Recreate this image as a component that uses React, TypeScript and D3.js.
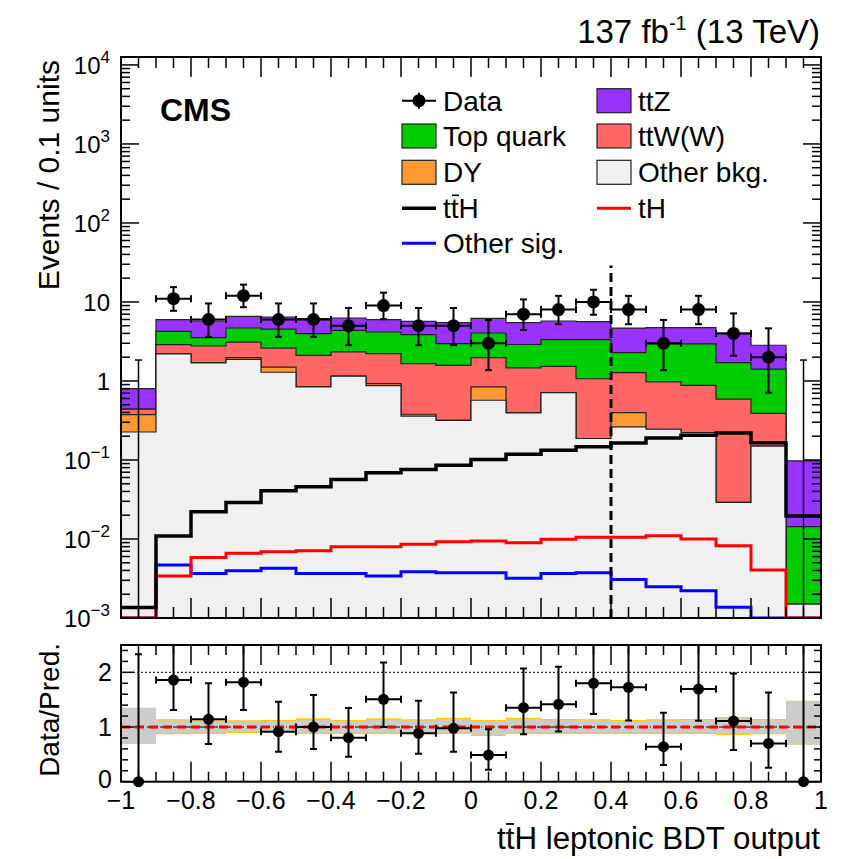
import React from 'react';
import * as d3 from 'd3';

// ---------- data ----------
const binEdges = [-1, -0.9, -0.8, -0.7, -0.6, -0.5, -0.4, -0.3, -0.2, -0.1, 0, 0.1, 0.2, 0.3, 0.4, 0.5, 0.6, 0.7, 0.8, 0.9, 1];

// stacked backgrounds (bottom -> top)
const otherBkg = [0.226, 2.2, 1.69, 1.88, 1.29, 0.84, 1.15, 0.875, 0.358, 0.318, 0.57, 0.394, 0.713, 0.187, 0.262, 0.245, 0.222, 0.029, 0.15, 0.0015];
const dyBkg = [0.15, 0, 0, 0.1, 0.21, 0, 0, 0.052, 0.021, 0, 0.27, 0, 0, 0, 0.136, 0, 0, 0, 0, 0];
const ttWW = [0.064, 0.69, 1.08, 1.13, 1.11, 1.27, 1.18, 1.29, 1.28, 1.26, 1.14, 1.07, 0.82, 0.88, 0.88, 0.73, 0.66, 0.56, 0.24, 0];
const topQuark = [0, 1.36, 0.77, 1.57, 1.93, 1.86, 2.05, 1.95, 2.2, 1.39, 2.07, 1.43, 1.81, 2.27, 1.0, 1.97, 2.06, 1.12, 1.02, 0.0128];
const ttZ = [0.36, 1.72, 2.2, 1.9, 1.91, 2.18, 1.89, 1.8, 1.83, 2.5, 2.16, 2.58, 2.4, 2.3, 2.4, 1.79, 1.79, 2.34, 1.42, 0.083];

// signals
const ttHSig = [0.00136, 0.0109, 0.0221, 0.029, 0.0407, 0.0457, 0.0566, 0.0687, 0.0759, 0.0859, 0.1015, 0.118, 0.133, 0.1466, 0.164, 0.19, 0.205, 0.22, 0.165, 0.0195];
const tHSig = [0, 0.0034, 0.00585, 0.00658, 0.00689, 0.0071, 0.008, 0.008, 0.00855, 0.00922, 0.0094, 0.00895, 0.00989, 0.0105, 0.0105, 0.011, 0.01, 0.0082, 0.00405, 0];
const otherSig = [0, 0.00468, 0.00367, 0.00396, 0.00425, 0.00367, 0.00367, 0.0034, 0.00385, 0.00374, 0.00374, 0.00318, 0.00367, 0.00374, 0.00308, 0.00249, 0.00221, 0.00137, 0, 0];

// observed data
const dataCounts = [0, 11, 6, 12, 6, 6, 5, 9, 5, 5, 3, 7, 8, 10, 8, 3, 8, 4, 2, 0];
const dataLo = [0, 7.73, 3.62, 8.58, 3.62, 3.62, 2.84, 6.06, 2.84, 2.84, 1.37, 4.42, 5.23, 6.89, 5.23, 1.37, 5.23, 2.09, 0.71, 0];
const dataHi = [1.84, 15.42, 9.58, 16.56, 9.58, 9.58, 8.38, 13.11, 8.38, 8.38, 5.92, 10.77, 11.95, 14.27, 11.95, 5.92, 11.95, 7.16, 4.64, 1.84];

// ratio panel
const ratioVals = [0, 1.86, 1.14, 1.82, 0.915, 1.0, 0.805, 1.506, 0.884, 0.976, 0.488, 1.354, 1.415, 1.8, 1.726, 0.64, 1.695, 1.11, 0.7, 0];
const ratioLo = [0, 1.31, 0.69, 1.31, 0.55, 0.6, 0.457, 1.0, 0.51, 0.55, 0.22, 0.866, 0.92, 1.24, 1.12, 0.305, 1.116, 0.58, 0.256, 0];
const ratioHi = [2.33, 2.6, 1.8, 2.6, 1.46, 1.585, 1.35, 2.18, 1.48, 1.63, 0.957, 2.07, 2.1, 2.6, 2.6, 1.26, 2.6, 1.98, 1.63, 2.6];
const totUncHi = [1.354, 1.14, 1.122, 1.122, 1.128, 1.159, 1.128, 1.159, 1.14, 1.171, 1.128, 1.171, 1.146, 1.14, 1.128, 1.14, 1.146, 1.183, 1.146, 1.482];
const totUncLo = [0.689, 0.866, 0.872, 0.89, 0.909, 0.872, 0.872, 0.872, 0.872, 0.872, 0.835, 0.872, 0.872, 0.872, 0.872, 0.872, 0.872, 0.854, 0.866, 0.671];
const statUncHi = [1.35, 1.117, 1.099, 1.099, 1.105, 1.136, 1.105, 1.136, 1.117, 1.148, 1.105, 1.148, 1.123, 1.117, 1.105, 1.117, 1.123, 1.16, 1.123, 1.478];
const statUncLo = [0.693, 0.889, 0.895, 0.913, 0.932, 0.895, 0.895, 0.895, 0.895, 0.895, 0.858, 0.895, 0.895, 0.895, 0.895, 0.895, 0.895, 0.877, 0.889, 0.675];

const xTickValues = [-1, -0.8, -0.6, -0.4, -0.2, 0, 0.2, 0.4, 0.6, 0.8, 1];
const xTickLabels = ['\u22121', '\u22120.8', '\u22120.6', '\u22120.4', '\u22120.2', '0', '0.2', '0.4', '0.6', '0.8', '1'];
const yDecades = [-3, -2, -1, 0, 1, 2, 3, 4];
const ratioTickValues = [0, 1, 2];

const stackNames = ['Other bkg.', 'DY', 'ttW(W)', 'Top quark', 'ttZ'];
const stackColors = ['#f0f0f0', '#ff9933', '#ff6666', '#00cc00', '#9933ff'];

// ---------- layout ----------
const FONT = '"Liberation Sans", Arial, Helvetica, sans-serif';
const X0 = 121, X1 = 821;
const MAIN_TOP = 57, MAIN_BOT = 618;
const R_TOP = 645, R_BOT = 781.7;
const FLOOR = 1e-3;

export default function App() {
  const x = d3.scaleLinear().domain([-1, 1]).range([X0, X1]);
  const y = d3.scaleLog().domain([FLOOR, 1.26e4]).range([MAIN_BOT, MAIN_TOP]);
  const yr = d3.scaleLinear().domain([0, 2.5]).range([R_BOT, R_TOP]);
  const nb = binEdges.length - 1;
  const centers = d3.range(nb).map(i => (binEdges[i] + binEdges[i + 1]) / 2);
  const clampV = (v: number) => Math.max(v, FLOOR);

  const stepPts = (vals: number[]) => {
    const pts: [number, number][] = vals.map((v, i) => [binEdges[i], v]);
    pts.push([binEdges[nb], vals[nb - 1]]);
    return pts;
  };

  const series = [otherBkg, dyBkg, ttWW, topQuark, ttZ];
  const cumulative: number[][] = [];
  series.forEach((s, k) => {
    cumulative.push(s.map((v, i) => v + (k > 0 ? cumulative[k - 1][i] : 0)));
  });

  const areaGen = d3.area<[number, number]>()
    .curve(d3.curveStepAfter)
    .x(d => x(d[0]))
    .y0(y(FLOOR))
    .y1(d => y(clampV(d[1])));
  const lineGen = d3.line<[number, number]>()
    .curve(d3.curveStepAfter)
    .x(d => x(d[0]))
    .y(d => y(clampV(d[1])));
  const bandGen = d3.area<[number, number, number]>()
    .curve(d3.curveStepAfter)
    .x(d => x(d[0]))
    .y0(d => yr(d[1]))
    .y1(d => yr(d[2]));
  const bandPts = (lo: number[], hi: number[]) => {
    const pts: [number, number, number][] = lo.map((v, i) => [binEdges[i], v, hi[i]]);
    pts.push([binEdges[nb], lo[nb - 1], hi[nb - 1]]);
    return pts;
  };

  // ticks
  const xMinor = d3.range(0, 41).map(i => -1 + i * 0.05);
  const isMajorX = (v: number) => Math.abs(v * 5 - Math.round(v * 5)) < 1e-6;
  const yMinor: number[] = [];
  yDecades.forEach(d => {
    for (let m = 2; m <= 9; m++) {
      const v = m * Math.pow(10, d);
      if (v <= 1.26e4) yMinor.push(v);
    }
  });
  const rMinor = d3.range(1, 13).map(i => i * 0.2).filter(v => Math.abs(v - 1) > 1e-6 && Math.abs(v - 2) > 1e-6);

  const decadeLabel = (d: number) => {
    if (d === 0) return <tspan>1</tspan>;
    if (d === 1) return <tspan>10</tspan>;
    return (
      <>
        <tspan>10</tspan>
        <tspan dy={-11} fontSize={17}>{d < 0 ? '\u2212' + (-d) : String(d)}</tspan>
      </>
    );
  };

  const legendY = [100.7, 136, 172.3, 208.3, 243.3];
  const LX1 = 402, LX2 = 597, LW = 34, LTX = 443, LTX2 = 638;

  return (
    <svg width={843} height={859} style={{ display: 'block', position: 'absolute', left: 0, top: 0, background: '#fff' }} fontFamily={FONT}>
      <defs>
        <clipPath id="mainClip"><rect x={X0} y={MAIN_TOP} width={X1 - X0} height={MAIN_BOT - MAIN_TOP} /></clipPath>
        <clipPath id="ratioClip"><rect x={X0} y={R_TOP} width={X1 - X0} height={R_BOT - R_TOP} /></clipPath>
      </defs>
      <rect x={0} y={0} width={843} height={859} fill="#fff" />

      {/* ---------- main panel ---------- */}
      <g clipPath="url(#mainClip)">
        {cumulative.slice().reverse().map((c, j) => {
          const k = cumulative.length - 1 - j;
          return <path key={k} d={areaGen(stepPts(c)) || ''} fill={stackColors[k]} stroke="#222" strokeWidth={1.2} />;
        })}
        <path d={lineGen(stepPts(otherSig)) || ''} fill="none" stroke="#0000ff" strokeWidth={3} />
        <path d={lineGen(stepPts(tHSig)) || ''} fill="none" stroke="#ff0000" strokeWidth={3} />
        <path d={lineGen(stepPts(ttHSig)) || ''} fill="none" stroke="#000" strokeWidth={3.5} />
        <line x1={x(0.4)} x2={x(0.4)} y1={y(FLOOR)} y2={y(29)} stroke="#000" strokeWidth={3} strokeDasharray="9,5" />
        {/* data */}
        {dataCounts.map((n, i) => {
          const cx = x(centers[i]);
          const hiY = y(dataHi[i]);
          if (n === 0) {
            return (
              <g key={i} stroke="#000">
                <line x1={cx} x2={cx} y1={y(FLOOR)} y2={hiY} strokeWidth={1.5} />
                <line x1={cx - 3.5} x2={cx + 3.5} y1={hiY} y2={hiY} strokeWidth={1.5} />
              </g>
            );
          }
          const cy = y(n);
          const loY = y(dataLo[i]);
          const xl = x(binEdges[i]), xr = x(binEdges[i + 1]);
          return (
            <g key={i} stroke="#000" strokeWidth={2}>
              <line x1={cx} x2={cx} y1={loY} y2={hiY} />
              <line x1={cx - 3.5} x2={cx + 3.5} y1={hiY} y2={hiY} />
              <line x1={cx - 3.5} x2={cx + 3.5} y1={loY} y2={loY} />
              <line x1={xl} x2={xr} y1={cy} y2={cy} />
              <line x1={xl} x2={xl} y1={cy - 3.5} y2={cy + 3.5} />
              <line x1={xr} x2={xr} y1={cy - 3.5} y2={cy + 3.5} />
              <circle cx={cx} cy={cy} r={6.5} fill="#000" stroke="none" />
            </g>
          );
        })}
      </g>

      {/* main frame & ticks */}
      <g stroke="#000" strokeWidth={1.5}>
        {xMinor.map((v, i) => {
          const L = isMajorX(v) ? 20 : 11;
          return (
            <g key={i}>
              <line x1={x(v)} x2={x(v)} y1={MAIN_BOT} y2={MAIN_BOT - L} />
              <line x1={x(v)} x2={x(v)} y1={MAIN_TOP} y2={MAIN_TOP + L} />
            </g>
          );
        })}
        {yDecades.map(d => (
          <g key={d}>
            <line x1={X0} x2={X0 + 18} y1={y(Math.pow(10, d))} y2={y(Math.pow(10, d))} />
            <line x1={X1} x2={X1 - 18} y1={y(Math.pow(10, d))} y2={y(Math.pow(10, d))} />
          </g>
        ))}
        {yMinor.map((v, i) => (
          <g key={i}>
            <line x1={X0} x2={X0 + 9} y1={y(v)} y2={y(v)} />
            <line x1={X1} x2={X1 - 9} y1={y(v)} y2={y(v)} />
          </g>
        ))}
      </g>
      <rect x={X0} y={MAIN_TOP} width={X1 - X0} height={MAIN_BOT - MAIN_TOP} fill="none" stroke="#000" strokeWidth={2} />
      <g fontSize={24} textAnchor="end" fill="#000">
        {yDecades.map(d => (
          <text key={d} x={110} y={y(Math.pow(10, d)) + 9}>{decadeLabel(d)}</text>
        ))}
      </g>

      {/* CMS label */}
      <text x={160} y={121} fontSize={32} fontWeight="bold" fill="#000">CMS</text>

      {/* legend */}
      <g fontSize={28} fill="#000">
        {/* Data */}
        <line x1={LX1} x2={LX1 + LW} y1={legendY[0]} y2={legendY[0]} stroke="#000" strokeWidth={2} />
        <line x1={LX1 + LW / 2} x2={LX1 + LW / 2} y1={legendY[0] - 8} y2={legendY[0] + 8} stroke="#000" strokeWidth={2} />
        <circle cx={LX1 + LW / 2} cy={legendY[0]} r={6.5} fill="#000" />
        <text x={LTX} y={legendY[0] + 10}>Data</text>
        {/* Top quark */}
        <rect x={LX1} y={legendY[1] - 12} width={LW} height={24} fill={stackColors[3]} stroke="#222" strokeWidth={1.2} />
        <text x={LTX} y={legendY[1] + 10}>{stackNames[3]}</text>
        {/* DY */}
        <rect x={LX1} y={legendY[2] - 12} width={LW} height={24} fill={stackColors[1]} stroke="#222" strokeWidth={1.2} />
        <text x={LTX} y={legendY[2] + 10}>{stackNames[1]}</text>
        {/* ttH */}
        <line x1={LX1} x2={LX1 + LW} y1={legendY[3]} y2={legendY[3]} stroke="#000" strokeWidth={3.5} />
        <text x={LTX} y={legendY[3] + 10}>ttH</text>
        <line x1={LTX + 9} x2={LTX + 16} y1={legendY[3] - 13} y2={legendY[3] - 13} stroke="#000" strokeWidth={1.6} />
        {/* Other sig */}
        <line x1={LX1} x2={LX1 + LW} y1={legendY[4]} y2={legendY[4]} stroke="#0000ff" strokeWidth={3} />
        <text x={LTX} y={legendY[4] + 10}>Other sig.</text>
        {/* right column */}
        <rect x={LX2} y={legendY[0] - 12} width={LW} height={24} fill={stackColors[4]} stroke="#222" strokeWidth={1.2} />
        <text x={LTX2} y={legendY[0] + 10}>{stackNames[4]}</text>
        <rect x={LX2} y={legendY[1] - 12} width={LW} height={24} fill={stackColors[2]} stroke="#222" strokeWidth={1.2} />
        <text x={LTX2} y={legendY[1] + 10}>{stackNames[2]}</text>
        <rect x={LX2} y={legendY[2] - 12} width={LW} height={24} fill={stackColors[0]} stroke="#222" strokeWidth={1.2} />
        <text x={LTX2} y={legendY[2] + 10}>{stackNames[0]}</text>
        <line x1={LX2} x2={LX2 + LW} y1={legendY[3]} y2={legendY[3]} stroke="#ff0000" strokeWidth={3} />
        <text x={LTX2} y={legendY[3] + 10}>tH</text>
      </g>

      {/* title */}
      <text x={820} y={43} fontSize={33} textAnchor="end" fill="#000">
        137 fb<tspan dy={-13} fontSize={20}>-1</tspan><tspan dy={13}> (13 TeV)</tspan>
      </text>

      {/* y title */}
      <text transform="translate(59,60) rotate(-90)" fontSize={30} textAnchor="end" fill="#000">Events / 0.1 units</text>

      {/* ---------- ratio panel ---------- */}
      <g clipPath="url(#ratioClip)">
        <path d={bandGen(bandPts(totUncLo, totUncHi)) || ''} fill="#ffcc00" stroke="none" />
        <path d={bandGen(bandPts(statUncLo, statUncHi)) || ''} fill="#cccccc" stroke="none" />
        <line x1={X0} x2={X1} y1={yr(2)} y2={yr(2)} stroke="#000" strokeWidth={1} strokeDasharray="2,2" />
        <line x1={X0} x2={X1} y1={yr(1)} y2={yr(1)} stroke="#000" strokeWidth={1} strokeDasharray="6,3,1,3" />
        <line x1={X0} x2={X1} y1={yr(1)} y2={yr(1)} stroke="#ff0000" strokeWidth={3} strokeDasharray="9,5" />
        {ratioVals.map((r, i) => {
          const cx = x(centers[i]);
          const cy = yr(r);
          const hiY = yr(ratioHi[i]);
          const loY = yr(ratioLo[i]);
          const xl = x(binEdges[i]), xr = x(binEdges[i + 1]);
          return (
            <g key={i} stroke="#000" strokeWidth={2}>
              <line x1={cx} x2={cx} y1={loY} y2={hiY} />
              <line x1={cx - 3.5} x2={cx + 3.5} y1={hiY} y2={hiY} />
              {dataCounts[i] > 0 && (
                <>
                  <line x1={cx - 3.5} x2={cx + 3.5} y1={loY} y2={loY} />
                  <line x1={xl} x2={xr} y1={cy} y2={cy} />
                  <line x1={xl} x2={xl} y1={cy - 3.5} y2={cy + 3.5} />
                  <line x1={xr} x2={xr} y1={cy - 3.5} y2={cy + 3.5} />
                </>
              )}
            </g>
          );
        })}
      </g>
      {ratioVals.map((r, i) => (
        <circle key={i} cx={x(centers[i])} cy={yr(r)} r={5.5} fill="#000" />
      ))}
      <g stroke="#000" strokeWidth={1.5}>
        {xMinor.map((v, i) => {
          const L = isMajorX(v) ? 20 : 10;
          return (
            <g key={i}>
              <line x1={x(v)} x2={x(v)} y1={R_BOT} y2={R_BOT - L} />
              <line x1={x(v)} x2={x(v)} y1={R_TOP} y2={R_TOP + L} />
            </g>
          );
        })}
        {ratioTickValues.map(v => (
          <g key={v}>
            <line x1={X0} x2={X0 + 13} y1={yr(v)} y2={yr(v)} />
            <line x1={X1} x2={X1 - 13} y1={yr(v)} y2={yr(v)} />
          </g>
        ))}
        {rMinor.map((v, i) => (
          <g key={i}>
            <line x1={X0} x2={X0 + 7} y1={yr(v)} y2={yr(v)} />
            <line x1={X1} x2={X1 - 7} y1={yr(v)} y2={yr(v)} />
          </g>
        ))}
      </g>
      <rect x={X0} y={R_TOP} width={X1 - X0} height={R_BOT - R_TOP} fill="none" stroke="#000" strokeWidth={2} />
      <g fontSize={25} fill="#000">
        {ratioTickValues.map(v => (
          <text key={v} x={112} y={yr(v) + (v === 0 ? 6 : 9)} textAnchor="end">{v}</text>
        ))}
        {xTickValues.map((v, i) => (
          <text key={i} x={x(v)} y={809} textAnchor="middle">{xTickLabels[i]}</text>
        ))}
      </g>
      <text transform={`translate(59,${R_TOP - 2}) rotate(-90)`} fontSize={28} textAnchor="end" fill="#000">Data/Pred.</text>

      {/* x title */}
      <text x={497} y={849} fontSize={31} textLength={323} lengthAdjust="spacingAndGlyphs" fill="#000">ttH leptonic BDT output</text>
      <line x1={506} x2={514} y1={824} y2={824} stroke="#000" strokeWidth={1.8} />
    </svg>
  );
}
